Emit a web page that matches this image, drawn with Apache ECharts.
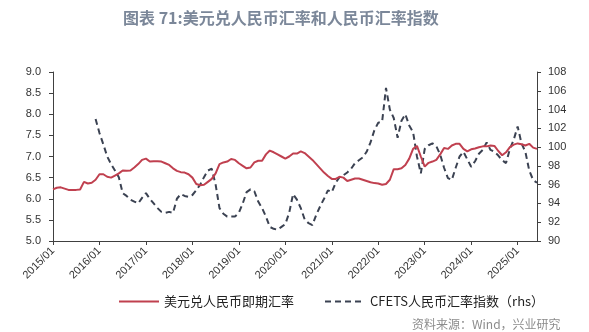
<!DOCTYPE html>
<html>
<head>
<meta charset="utf-8">
<script src="https://cdn.jsdelivr.net/npm/echarts@6/dist/echarts.min.js"></script>
<style>
  html, body { margin: 0; padding: 0; background: #fff; }
  #chart { width: 589px; height: 332px; }
</style>
</head>
<body>
<div id="chart"></div>
<script>
// Monthly observations, 2015/01 .. 2025/06
var startYear = 2015;
var monthCount = 126;

// USD/CNY spot rate (left axis)
var usdCny = [
  6.22, 6.26, 6.27, 6.24, 6.21, 6.21, 6.21, 6.22, 6.40, 6.36, 6.38, 6.45,
  6.58, 6.58, 6.52, 6.50, 6.55, 6.60, 6.67, 6.66, 6.67, 6.74, 6.82, 6.92,
  6.95, 6.88, 6.89, 6.89, 6.88, 6.84, 6.80, 6.72, 6.66, 6.63, 6.62, 6.58,
  6.50, 6.35, 6.32, 6.33, 6.40, 6.47, 6.60, 6.82, 6.86, 6.88, 6.94, 6.92,
  6.84, 6.78, 6.72, 6.74, 6.86, 6.90, 6.90, 7.05, 7.14, 7.10, 7.05, 7.00,
  6.95, 7.00, 7.07, 7.07, 7.12, 7.08, 7.00, 6.92, 6.82, 6.72, 6.62, 6.54,
  6.47, 6.47, 6.52, 6.50, 6.42, 6.45, 6.48, 6.48, 6.45, 6.42, 6.39, 6.37,
  6.36, 6.33, 6.35, 6.45, 6.70, 6.70, 6.72, 6.80, 6.95, 7.18, 7.25, 7.00,
  6.76, 6.85, 6.88, 6.92, 7.05, 7.20, 7.18, 7.26, 7.30, 7.30, 7.18, 7.12,
  7.17, 7.19, 7.22, 7.24, 7.24, 7.26, 7.25, 7.13, 7.03, 7.10, 7.22, 7.28,
  7.31, 7.29, 7.26, 7.30, 7.21, 7.18
];

// CFETS RMB index (right axis), published from 2015/12
var cfets = [
  null, null, null, null, null, null, null, null, null, null, null, 103.0,
  101.5, 100.3, 99.0, 98.2, 97.5, 96.8, 95.1, 94.8, 94.4, 94.2, 94.0, 94.6,
  95.1, 94.5, 94.0, 93.5, 93.1, 93.0, 93.1, 93.0, 94.5, 95.0, 94.8, 94.7,
  94.9, 95.4, 96.0, 96.8, 97.5, 97.7, 96.0, 93.5, 92.9, 92.6, 92.6, 92.6,
  93.0, 94.0, 95.2, 95.5, 95.3, 94.2, 93.5, 92.6, 91.5, 91.3, 91.2, 91.5,
  91.8, 93.0, 95.0, 94.4, 93.5, 92.3, 91.9, 91.7, 92.8, 93.7, 94.5, 95.4,
  95.2, 96.2, 96.8, 97.0, 97.3, 97.7, 98.3, 98.6, 98.9, 99.5, 100.5, 101.8,
  102.6, 102.7, 106.3, 104.0, 103.1, 101.0, 102.8, 103.5, 102.3, 101.6, 99.0, 97.2,
  99.8, 100.2, 100.4, 100.1, 99.2, 97.8, 96.7, 96.5, 97.8, 99.0, 99.5, 98.7,
  97.9, 98.5, 99.3, 99.7, 100.5, 99.7, 99.5, 99.1, 98.6, 98.3, 99.8, 100.8,
  102.2, 100.4, 99.5, 97.5, 96.5, 96.2
];

var seriesNames = ['美元兑人民币即期汇率', 'CFETS人民币汇率指数（rhs）'];
var titleText = '图表 71:美元兑人民币汇率和人民币汇率指数';
var sourceText = '资料来源：Wind，兴业研究';

var months = [];
for (var i = 0; i < monthCount; i++) {
  var y = startYear + Math.floor(i / 12);
  var m = (i % 12) + 1;
  months.push(y + '/' + (m < 10 ? '0' + m : m));
}

var axisColor = '#404040';
var labelFont = { fontFamily: 'Liberation Sans, Arial, sans-serif', fontSize: 11, color: '#333' };

var chart = echarts.init(document.getElementById('chart'), null, { renderer: 'canvas' });
chart.setOption({
  animation: false,
  backgroundColor: '#fff',
  title: {
    text: titleText,
    left: 118,
    top: 5,
    textStyle: {
      fontFamily: 'Noto Sans CJK SC, sans-serif',
      fontSize: 16,
      fontWeight: 'bold',
      color: '#7b8799'
    }
  },
  graphic: [{
    type: 'text',
    left: 412,
    top: 318,
    style: {
      text: sourceText,
      fontFamily: 'Noto Sans CJK SC, sans-serif',
      fontSize: 12,
      fill: '#8c8c8c'
    }
  }],
  legend: {
    left: 113,
    top: 290,
    itemWidth: 40,
    itemHeight: 12,
    itemGap: 30,
    itemStyle: { opacity: 0 },
    textStyle: {
      fontFamily: 'Noto Sans CJK SC, sans-serif',
      fontSize: 13,
      color: '#222'
    },
    data: seriesNames
  },
  grid: { left: 53, right: 52, top: 72, bottom: 91, containLabel: false },
  xAxis: {
    type: 'category',
    data: months,
    boundaryGap: false,
    axisLine: { lineStyle: { color: axisColor, width: 1 } },
    axisTick: {
      interval: function (idx) { return idx % 12 === 0; },
      length: 4,
      lineStyle: { color: axisColor }
    },
    axisLabel: Object.assign({
      interval: function (idx) { return idx % 12 === 0; },
      rotate: 45,
      margin: 8
    }, labelFont),
    splitLine: { show: false }
  },
  yAxis: [{
    type: 'value',
    min: 5,
    max: 9,
    interval: 0.5,
    position: 'left',
    axisLine: { show: true, lineStyle: { color: axisColor } },
    axisTick: { show: true, length: 4, lineStyle: { color: axisColor } },
    axisLabel: Object.assign({
      margin: 12,
      formatter: function (v) { return v.toFixed(1); }
    }, labelFont),
    splitLine: { show: false }
  }, {
    type: 'value',
    min: 90,
    max: 108,
    interval: 2,
    position: 'right',
    axisLine: { show: true, lineStyle: { color: axisColor } },
    axisTick: { show: true, length: 4, lineStyle: { color: axisColor } },
    axisLabel: Object.assign({ margin: 11 }, labelFont),
    splitLine: { show: false }
  }],
  series: [{
    name: seriesNames[0],
    type: 'line',
    yAxisIndex: 0,
    data: usdCny,
    symbol: 'none',
    smooth: false,
    lineStyle: { color: '#c0404f', width: 2 },
    itemStyle: { color: '#c0404f' },
    z: 3
  }, {
    name: seriesNames[1],
    type: 'line',
    yAxisIndex: 1,
    data: cfets,
    symbol: 'none',
    connectNulls: false,
    lineStyle: { color: '#3b4252', width: 2, type: [6, 4] },
    itemStyle: { color: '#3b4252' },
    z: 2
  }]
});
</script>
</body>
</html>
